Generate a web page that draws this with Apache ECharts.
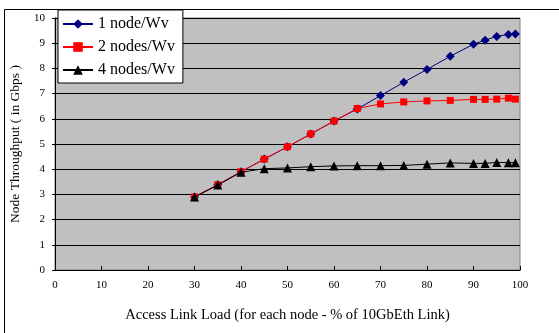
<!DOCTYPE html>
<html>
<head>
<meta charset="utf-8">
<script src="https://cdn.jsdelivr.net/npm/echarts@6/dist/echarts.min.js"></script>
<style>html,body{margin:0;padding:0;background:#fff}#c{width:559px;height:333px}</style>
</head>
<body>
<div id="c"></div>
<script>
var loads = [30, 35, 40, 45, 50, 55, 60, 65, 70, 75, 80, 85, 90, 92.5, 95, 97.5, 99];
var oneNode = [2.9, 3.38, 3.9, 4.4, 4.89, 5.4, 5.91, 6.39, 6.92, 7.45, 7.96, 8.48, 8.96, 9.12, 9.27, 9.35, 9.37];
var twoNodes = [2.9, 3.38, 3.9, 4.4, 4.89, 5.4, 5.91, 6.41, 6.59, 6.67, 6.71, 6.73, 6.77, 6.77, 6.78, 6.82, 6.78];
var fourNodes = [2.9, 3.37, 3.88, 4.02, 4.05, 4.1, 4.13, 4.14, 4.14, 4.15, 4.2, 4.25, 4.23, 4.23, 4.27, 4.26, 4.26];
var seriesNames = ['1 node/Wv', '2 nodes/Wv', '4 nodes/Wv'];
var xTicks = [0, 10, 20, 30, 40, 50, 60, 70, 80, 90, 100];
var yTicks = [0, 1, 2, 3, 4, 5, 6, 7, 8, 9, 10];

function pairs(ys) { return loads.map(function (x, i) { return [x, ys[i]]; }); }
var font = 'Liberation Serif';
var chart = echarts.init(document.getElementById('c'));
chart.setOption({
  backgroundColor: '#fff',
  animation: false,
  graphic: [{
    type: 'rect', shape: { x: 4.5, y: 9.5, width: 600, height: 400 },
    style: { fill: 'none', stroke: '#000', lineWidth: 1 }, z: -1
  }],
  grid: {
    left: 53, top: 18, width: 467, height: 252,
    show: true, backgroundColor: '#C0C0C0', borderColor: '#808080', borderWidth: 1
  },
  legend: {
    orient: 'vertical', left: 58, top: 10,
    backgroundColor: '#fff', borderColor: '#000', borderWidth: 1,
    padding: [6, 8, 5, 4], itemGap: 7, itemWidth: 30, itemHeight: 12,
    textStyle: { fontFamily: font, fontSize: 16, color: '#000' },
    data: seriesNames
  },
  xAxis: {
    type: 'value', min: 0, max: 100, interval: 10,
    name: 'Access Link Load (for each node - % of 10GbEth Link)',
    nameLocation: 'middle', nameGap: 38,
    nameTextStyle: { fontFamily: font, fontSize: 14.5, color: '#000' },
    axisLine: { show: true, onZero: false, lineStyle: { color: '#000' } },
    axisTick: { show: true, inside: true, length: 4, lineStyle: { color: '#000' } },
    axisLabel: { fontFamily: font, fontSize: 11, color: '#000', margin: 10,
      formatter: function (v) { return xTicks.indexOf(v) >= 0 ? String(v) : ''; } },
    splitLine: { show: false }
  },
  yAxis: {
    type: 'value', min: 0, max: 10, interval: 1,
    name: 'Node Throughput ( in Gbps )',
    nameLocation: 'middle', nameGap: 33,
    nameTextStyle: { fontFamily: font, fontSize: 13.5, color: '#000' },
    axisLine: { show: true, lineStyle: { color: '#000' } },
    axisTick: { show: true, length: 3, lineStyle: { color: '#000' } },
    axisLabel: { fontFamily: font, fontSize: 11, color: '#000', margin: 10,
      formatter: function (v) { return yTicks.indexOf(v) >= 0 ? String(v) : ''; } },
    splitLine: { show: true, lineStyle: { color: '#000', width: 1 } }
  },
  series: [
    { name: seriesNames[0], type: 'line', data: pairs(oneNode), symbol: 'diamond', symbolSize: 9,
      itemStyle: { color: '#000080' }, lineStyle: { color: '#000080', width: 1 }, z: 3 },
    { name: seriesNames[1], type: 'line', data: pairs(twoNodes), symbol: 'rect', symbolSize: 7,
      itemStyle: { color: '#FF0000' }, lineStyle: { color: '#FF0000', width: 1 }, z: 4 },
    { name: seriesNames[2], type: 'line', data: pairs(fourNodes), symbol: 'triangle', symbolSize: 9,
      itemStyle: { color: '#000' }, lineStyle: { color: '#000', width: 1 }, z: 5 }
  ]
});
</script>
</body>
</html>
